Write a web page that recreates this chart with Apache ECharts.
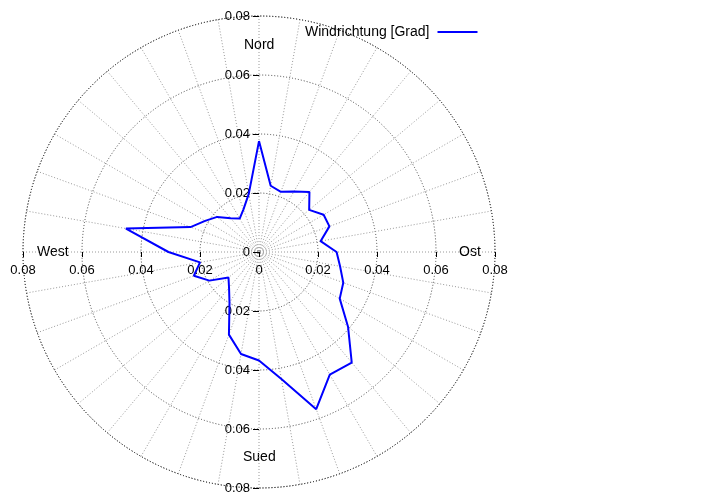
<!DOCTYPE html>
<html>
<head>
<meta charset="utf-8">
<script src="https://cdn.jsdelivr.net/npm/echarts@6/dist/echarts.min.js"></script>
<style>
html,body{margin:0;padding:0;background:#fff;}
#chart{width:720px;height:504px;}
</style>
</head>
<body>
<div id="chart"></div>
<script>
// Wind direction in degrees (clockwise from north)
var directions = [0,10,20,30,40,50,60,70,80,90,100,110,120,130,140,150,160,170,
                  180,190,200,210,220,230,240,250,260,270,280,290,300,310,320,330,340,350,360];
// Relative frequency per direction (last value closes the curve = first value)
var frequencies = [0.0376,0.0228,0.0217,0.0237,0.0266,0.0222,0.0253,0.0254,0.0212,0.0263,
                   0.0279,0.0304,0.0316,0.0394,0.0489,0.0480,0.0567,0.0437,0.0368,0.0351,
                   0.0298,0.0200,0.0158,0.0135,0.0194,0.0235,0.0203,0.0307,0.0458,0.0247,
                   0.0211,0.0185,0.0149,0.0131,0.0154,0.0200,0.0376];
var seriesName = 'Windrichtung [Grad]';
var compassLabels = ['Nord','Ost','Sued','West'];
var radiusMax = 0.08;
var radiusStep = 0.02;
var angleStep = 10;

var chart = echarts.init(document.getElementById('chart'), null, {renderer:'canvas'});
var cx = 259, cy = 252, R = 236;
var fontFam = 'Liberation Sans, Arial, sans-serif';

var polarData = directions.map(function(a, i){ return [frequencies[i], a]; });

function fmt(v){
  var a = Math.abs(v);
  if (a < 1e-9) return '0';
  return a.toFixed(2);
}

var option = {
  animation: false,
  backgroundColor: '#ffffff',
  textStyle: {fontFamily: fontFam},
  polar: {center: [cx, cy], radius: [0, R]},
  angleAxis: {
    type: 'value', min: 0, max: 360, interval: angleStep,
    startAngle: 90, clockwise: true,
    axisLine: {show: true, lineStyle: {color: '#333', width: 1, type: [1, 2]}},
    axisTick: {show: false},
    axisLabel: {show: false},
    splitLine: {show: true, lineStyle: {color: '#999', width: 1, type: [1, 2]}}
  },
  radiusAxis: {
    type: 'value', min: 0, max: radiusMax, interval: radiusStep,
    axisLine: {show: false}, axisTick: {show: false}, axisLabel: {show: false},
    splitLine: {show: true, lineStyle: {color: '#444', width: 1, type: [1, 2]}}
  },
  grid: {left: cx - R, top: cy - R, width: 2 * R, height: 2 * R, containLabel: false, outerBoundsMode: 'none'},
  xAxis: {
    type: 'value', min: -radiusMax, max: radiusMax, interval: radiusStep,
    position: 'bottom', offset: -R,
    axisLine: {show: false, onZero: false},
    axisTick: {show: true, length: 5, lineStyle: {color: '#000'}},
    axisLabel: {show: true, margin: 12, color: '#000', fontSize: 13, fontFamily: fontFam, formatter: fmt, showMinLabel: true, showMaxLabel: true, hideOverlap: false},
    splitLine: {show: false}
  },
  yAxis: {
    type: 'value', min: -radiusMax, max: radiusMax, interval: radiusStep,
    position: 'left', offset: -R,
    axisLine: {show: false, onZero: false},
    axisTick: {show: true, length: 6, lineStyle: {color: '#000'}},
    axisLabel: {show: true, margin: 9, color: '#000', fontSize: 13, fontFamily: fontFam, formatter: fmt, showMinLabel: true, showMaxLabel: true, hideOverlap: false},
    splitLine: {show: false}
  },
  legend: {
    show: true, left: 300, top: 20, align: 'right',
    itemWidth: 40, itemHeight: 14, itemGap: 0,
    textStyle: {fontSize: 14, color: '#000', fontFamily: fontFam, padding: [0, 3, 0, 0]},
    data: [{name: seriesName, icon: 'path://M0,6 L40,6 L40,8 L0,8 Z', itemStyle: {color: '#0000ff'}}]
  },
  series: [{
    name: seriesName, type: 'line', coordinateSystem: 'polar',
    data: polarData, symbol: 'none', smooth: false,
    lineStyle: {color: '#0000ff', width: 2},
    itemStyle: {color: '#0000ff'},
    z: 5
  }],
  graphic: [
    {type: 'text', left: 244, top: 38, style: {text: compassLabels[0], font: '14px ' + fontFam, fill: '#000'}},
    {type: 'text', left: 459, top: 245, style: {text: compassLabels[1], font: '14px ' + fontFam, fill: '#000'}},
    {type: 'text', left: 243, top: 450, style: {text: compassLabels[2], font: '14px ' + fontFam, fill: '#000'}},
    {type: 'text', left: 37, top: 245, style: {text: compassLabels[3], font: '14px ' + fontFam, fill: '#000'}}
  ]
};
chart.setOption(option);
</script>
</body>
</html>
